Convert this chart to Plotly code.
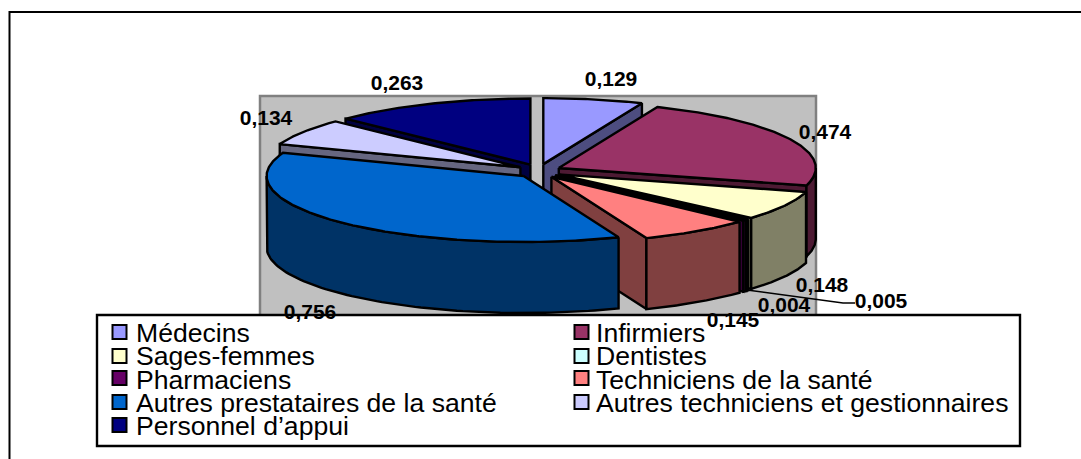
import numpy as np
import plotly.graph_objects as go

# ---- data ----
categories = ["Médecins", "Infirmiers", "Sages-femmes", "Dentistes", "Pharmaciens",
              "Techniciens de la santé", "Autres prestataires de la santé",
              "Autres techniciens et gestionnaires", "Personnel d’appui"]
values = [0.129, 0.474, 0.148, 0.004, 0.005, 0.145, 0.756, 0.134, 0.263]
value_labels = ["0,129", "0,474", "0,148", "0,004", "0,005", "0,145", "0,756", "0,134", "0,263"]
top_colors = ["#9999ff", "#993366", "#ffffcc", "#ccffff", "#660066", "#ff8080", "#0066cc", "#ccccff", "#000080"]
side_colors = ["#4d4d80", "#4d1a33", "#808066", "#668080", "#330033", "#804040", "#003366", "#666680", "#000040"]
draw_order = [0, 8, 7, 1, 2, 3, 4, 5, 6]

# ---- geometry of the projected pie, in page pixels ----
CX, CY = 539.0, 171.0
RX, RY = 257.0, 66.0
DEPTH = 71.0
EX, EY = 22.0, 7.0
label_xy = [(611, 81), (825, 134), (822, 287), (784, 307), (881, 303),
            (733, 322), (310, 314), (266, 120), (397, 85)]

total = sum(values)
edges = np.concatenate([[0.0], np.cumsum(values)]) / total * 360.0


def rim(theta, ax, ay, drop=0.0):
    t = np.radians(theta)
    return ax + RX * np.sin(t), ay - RY * np.cos(t) + drop


def poly(fig, xs, ys, color, name):
    fig.add_trace(go.Scatter(x=list(xs), y=list(ys), mode="lines", fill="toself",
                             fillcolor=color, line=dict(color="black", width=2.4),
                             name=name, hoverinfo="name", showlegend=False))


fig = go.Figure()
for i in draw_order:
    s, e = edges[i], edges[i + 1]
    mid = np.radians((s + e) / 2)
    ax, ay = CX + EX * np.sin(mid), CY - EY * np.cos(mid)
    name = categories[i]
    # cut faces turned to the viewer
    for th, visible in ((s, np.sin(np.radians(s)) < 0), (e, np.sin(np.radians(e)) > 0)):
        if visible:
            rx0, ry0 = rim(th, ax, ay)
            poly(fig, [ax, rx0, rx0, ax, ax], [ay, ry0, ry0 + DEPTH, ay + DEPTH, ay], side_colors[i], name)
    # outer wall (front half only)
    a0, a1 = max(s, 90.0), min(e, 270.0)
    if a1 > a0:
        th = np.linspace(a0, a1, 80)
        xt, yt = rim(th, ax, ay)
        xb, yb = rim(th[::-1], ax, ay, DEPTH)
        poly(fig, np.r_[xt, xb, xt[0]], np.r_[yt, yb, yt[0]], side_colors[i], name)
    # top
    th = np.linspace(s, e, max(int(e - s) * 2, 6))
    xt, yt = rim(th, ax, ay)
    poly(fig, np.r_[ax, xt, ax], np.r_[ay, yt, ay], top_colors[i], name)

# leader line of the 0,005 label
fig.add_trace(go.Scatter(x=[747, 843, 855], y=[290, 303, 303], mode="lines",
                         line=dict(color="black", width=1.5), hoverinfo="skip", showlegend=False))

# legend, two columns
col_marker = [119.5, 581.5]
col_text = [136, 596]
row_marker_y = [332, 356, 378, 402, 425]
row_text_y = [335, 358, 382, 405, 428]
for i, name in enumerate(categories):
    c, r = i % 2, i // 2
    fig.add_trace(go.Scatter(x=[col_marker[c]], y=[row_marker_y[r]], mode="markers",
                             marker=dict(symbol="square", size=14, color=top_colors[i],
                                         line=dict(color="black", width=2)),
                             hoverinfo="skip", showlegend=False))
    fig.add_trace(go.Scatter(x=[col_text[c]], y=[row_text_y[r]], mode="text", text=[name],
                             textposition="middle right",
                             textfont=dict(family="Liberation Sans", size=26.6, color="black"),
                             hoverinfo="skip", showlegend=False))

# value labels
fig.add_trace(go.Scatter(x=[p[0] for p in label_xy], y=[p[1] for p in label_xy], mode="text",
                         text=[f"<b>{v}</b>" for v in value_labels], textposition="middle center",
                         textfont=dict(family="Liberation Sans", size=21, color="black"),
                         hoverinfo="skip", showlegend=False))

fig.update_layout(
    width=1081, height=459, margin=dict(l=0, r=0, t=0, b=0),
    paper_bgcolor="white", plot_bgcolor="white", showlegend=False,
    xaxis=dict(range=[0, 1081], visible=False, fixedrange=True),
    yaxis=dict(range=[459, 0], visible=False, fixedrange=True),
    shapes=[
        dict(type="rect", x0=9.5, y0=12, x1=1110, y1=490, line=dict(color="black", width=2), layer="below"),
        dict(type="rect", x0=260, y0=96, x1=816, y1=316, fillcolor="#c0c0c0",
             line=dict(color="#808080", width=2.5), layer="below"),
        dict(type="rect", x0=97, y0=315, x1=1020, y1=446, fillcolor="white",
             line=dict(color="black", width=2.4), layer="below"),
    ],
)
fig.write_html("out.html", config={"displayModeBar": False},
               post_script="document.body.style.margin='0';document.body.style.overflow='hidden';")
